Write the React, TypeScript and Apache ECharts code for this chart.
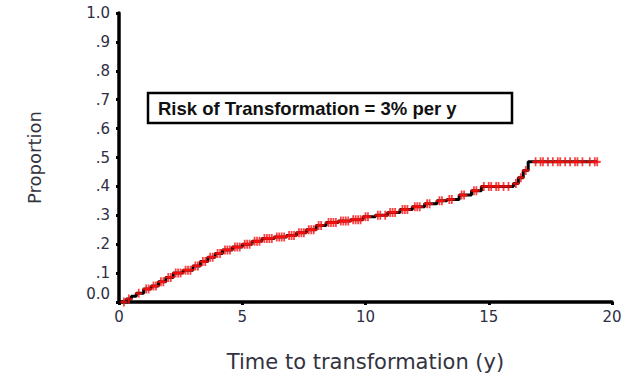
import React, { useEffect, useRef } from "react";
import * as echarts from "echarts";

// Cumulative proportion transformed: [time (y), proportion]; level changes at each time
const stepTimes = [0, 0.3, 0.5, 0.7, 1.0, 1.3, 1.6, 1.9, 2.2, 2.6, 3.0, 3.3, 3.6, 3.9, 4.2, 4.6, 5.0, 5.4, 5.8, 6.3, 6.8, 7.2, 7.6, 8.0, 8.4, 8.9, 9.4, 9.9, 10.4, 10.9, 11.4, 11.9, 12.4, 12.9, 13.3, 13.8, 14.3, 14.7, 16.0, 16.2, 16.4, 16.6, 19.4];
const stepValues = [0, 0.01, 0.02, 0.03, 0.045, 0.055, 0.07, 0.085, 0.1, 0.11, 0.125, 0.14, 0.155, 0.168, 0.18, 0.19, 0.2, 0.21, 0.22, 0.225, 0.23, 0.24, 0.25, 0.265, 0.275, 0.28, 0.285, 0.295, 0.3, 0.31, 0.32, 0.33, 0.34, 0.35, 0.355, 0.37, 0.385, 0.4, 0.41, 0.43, 0.455, 0.485, 0.485];

// Censored observation times (drawn on the curve)
const censorTimes = [0.2, 0.4, 0.8, 1.1, 1.2, 1.4, 1.5, 1.7, 1.8, 2.0, 2.1, 2.3, 2.4, 2.5, 2.7, 2.8, 2.9, 3.1, 3.2, 3.4, 3.5, 3.7, 3.8, 4.0, 4.1, 4.3, 4.4, 4.5, 4.7, 4.8, 4.9, 5.1, 5.2, 5.3, 5.5, 5.6, 5.7, 5.9, 6.0, 6.1, 6.2, 6.4, 6.5, 6.6, 6.7, 6.9, 7.0, 7.1, 7.3, 7.4, 7.5, 7.7, 7.8, 7.9, 8.1, 8.2, 8.5, 8.6, 8.7, 8.8, 9.0, 9.1, 9.2, 9.3, 9.5, 9.6, 9.7, 9.8, 10.0, 10.1, 10.5, 10.6, 10.8, 11.0, 11.1, 11.2, 11.5, 11.6, 11.7, 12.0, 12.1, 12.2, 12.5, 12.6, 13.0, 13.1, 13.4, 13.5, 13.9, 14.0, 14.4, 14.5, 14.8, 15.0, 15.1, 15.3, 15.4, 15.6, 15.8, 16.1, 16.3, 16.5, 16.9, 17.1, 17.2, 17.4, 17.6, 17.8, 17.9, 18.1, 18.3, 18.5, 18.6, 18.8, 19.1, 19.3, 19.4];

const yTickLabels: Record<string, string> = {
  "0": "0.0", "0.1": ".1", "0.2": ".2", "0.3": ".3", "0.4": ".4", "0.5": ".5",
  "0.6": ".6", "0.7": ".7", "0.8": ".8", "0.9": ".9", "1": "1.0",
};

const boxText = "Risk of Transformation = 3% per y";

function levelAt(t: number): number {
  let v = stepValues[0];
  for (let i = 0; i < stepTimes.length; i++) {
    if (stepTimes[i] <= t) v = stepValues[i];
  }
  return v;
}

export default function App() {
  const ref = useRef<HTMLDivElement>(null);
  useEffect(() => {
    if (!ref.current) return;
    const chart = echarts.init(ref.current, null, { renderer: "svg" });
    const stepData = stepTimes.map((t, i) => [t, stepValues[i]]);
    const censorData = censorTimes.map((t) => [t, levelAt(t)]);
    const labelColor = "#2e2e44";
    const textColor = "#333340";
    chart.setOption({
      animation: false,
      backgroundColor: "#ffffff",
      grid: { left: 119, right: 26, top: 13, bottom: 74, containLabel: false, outerBoundsMode: "none" },
      xAxis: {
        type: "value",
        min: 0,
        max: 20,
        interval: 5,
        splitLine: { show: false },
        axisLine: { lineStyle: { color: "#000", width: 3.5 } },
        axisTick: { length: 3, lineStyle: { color: "#000", width: 3 } },
        axisLabel: { color: labelColor, fontFamily: "DejaVu Sans", fontSize: 15, margin: 7 },
        name: "Time to transformation (y)",
        nameLocation: "middle",
        nameGap: 49,
        nameTextStyle: { color: textColor, fontFamily: "DejaVu Sans", fontSize: 21 },
      },
      yAxis: {
        type: "value",
        min: 0,
        max: 1,
        interval: 0.1,
        splitLine: { show: false },
        axisLine: { show: true, lineStyle: { color: "#000", width: 3.5 } },
        axisTick: { show: true, length: 3, lineStyle: { color: "#000", width: 3 } },
        axisLabel: {
          color: labelColor,
          fontFamily: "DejaVu Sans",
          fontSize: 15,
          margin: 9,
          formatter: (v: number) => {
            const s = yTickLabels[String(Math.round(v * 10) / 10)] ?? "";
            return v === 0 ? "{zero|" + s + "}" : s;
          },
          rich: {
            zero: {
              color: labelColor,
              fontFamily: "DejaVu Sans",
              fontSize: 15,
              padding: [0, 0, 16, 0],
            },
          },
        },
        name: "Proportion",
        nameLocation: "middle",
        nameGap: 76,
        nameTextStyle: { color: textColor, fontFamily: "DejaVu Sans", fontSize: 18 },
      },
      series: [
        {
          type: "line",
          step: "end",
          data: stepData,
          showSymbol: false,
          lineStyle: { color: "#000", width: 3 },
          z: 2,
        },
        {
          type: "scatter",
          data: censorData,
          symbol: "path://M5,0L5,10M1,5L9,5",
          symbolSize: [7, 9],
          itemStyle: { color: "none", borderColor: "#ff1010", borderWidth: 2 },
          z: 3,
        },
      ],
      graphic: [
        {
          type: "rect",
          shape: { x: 148, y: 93, width: 364, height: 30 },
          style: { fill: "#fff", stroke: "#000", lineWidth: 2.5 },
          z: 10,
        },
        {
          type: "text",
          x: 158,
          y: 108,
          style: {
            text: boxText,
            fill: "#111",
            font: "bold 18.5px 'Liberation Sans', Arial, sans-serif",
            verticalAlign: "middle",
          },
          z: 11,
        },
      ],
    });
    return () => chart.dispose();
  }, []);
  return <div ref={ref} style={{ width: 638, height: 376, position: "absolute", left: 0, top: 0 }} />;
}
